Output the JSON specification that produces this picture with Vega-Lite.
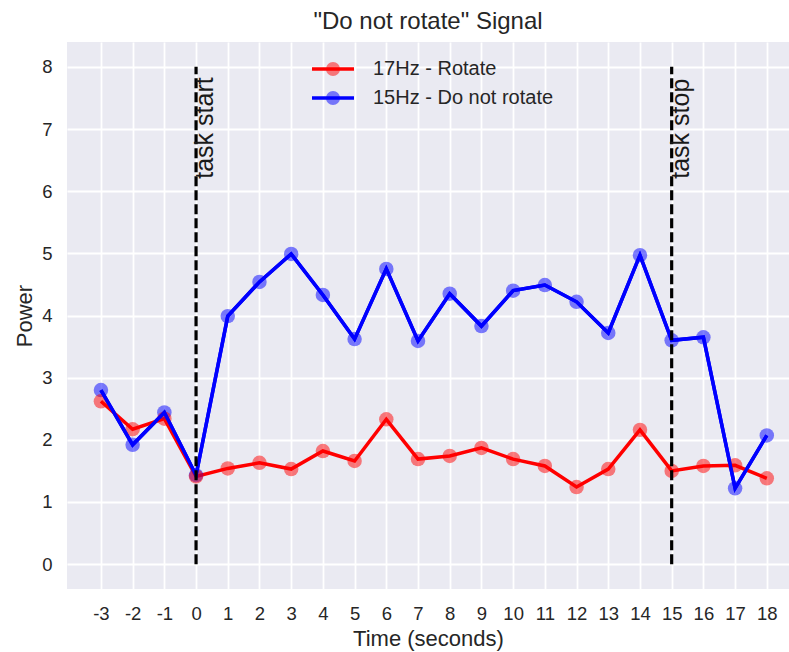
{
  "$schema": "https://vega.github.io/schema/vega-lite/v6.json",
  "width": 722,
  "height": 547,
  "autosize": {"type": "none"},
  "padding": {"left": 67, "top": 42, "right": 0, "bottom": 63},
  "background": "white",
  "title": {"text": "\"Do not rotate\" Signal", "fontSize": 24, "font": "Liberation Sans", "fontWeight": "normal", "color": "#262626", "offset": 8},
  "config": {
    "view": {"fill": "#EAEAF2", "stroke": null},
    "font": "Liberation Sans",
    "axis": {"grid": true, "gridColor": "white", "gridWidth": 1.8, "domain": false, "ticks": false, "tickSize": 0, "labelFontSize": 18.5, "labelColor": "#262626", "titleFontSize": 22, "titleFontWeight": "normal", "titleColor": "#262626", "labelFont": "Liberation Sans", "titleFont": "Liberation Sans", "labelOverlap": false, "labelSeparation": 0},
    "axisQuantitative": {"labelOverlap": false},
    "axisX": {"labelOverlap": false}
  },
  "datasets": {
    "signal": [
      {"time": -3, "series": "15Hz - Do not rotate", "power": 2.80},
      {"time": -2, "series": "15Hz - Do not rotate", "power": 1.92},
      {"time": -1, "series": "15Hz - Do not rotate", "power": 2.44},
      {"time": 0, "series": "15Hz - Do not rotate", "power": 1.43},
      {"time": 1, "series": "15Hz - Do not rotate", "power": 3.99},
      {"time": 2, "series": "15Hz - Do not rotate", "power": 4.54},
      {"time": 3, "series": "15Hz - Do not rotate", "power": 4.99},
      {"time": 4, "series": "15Hz - Do not rotate", "power": 4.33},
      {"time": 5, "series": "15Hz - Do not rotate", "power": 3.62},
      {"time": 6, "series": "15Hz - Do not rotate", "power": 4.75},
      {"time": 7, "series": "15Hz - Do not rotate", "power": 3.59},
      {"time": 8, "series": "15Hz - Do not rotate", "power": 4.35},
      {"time": 9, "series": "15Hz - Do not rotate", "power": 3.83},
      {"time": 10, "series": "15Hz - Do not rotate", "power": 4.40},
      {"time": 11, "series": "15Hz - Do not rotate", "power": 4.49},
      {"time": 12, "series": "15Hz - Do not rotate", "power": 4.22},
      {"time": 13, "series": "15Hz - Do not rotate", "power": 3.72},
      {"time": 14, "series": "15Hz - Do not rotate", "power": 4.97},
      {"time": 15, "series": "15Hz - Do not rotate", "power": 3.60},
      {"time": 16, "series": "15Hz - Do not rotate", "power": 3.65},
      {"time": 17, "series": "15Hz - Do not rotate", "power": 1.22},
      {"time": 18, "series": "15Hz - Do not rotate", "power": 2.07},
      {"time": -3, "series": "17Hz - Rotate", "power": 2.62},
      {"time": -2, "series": "17Hz - Rotate", "power": 2.17},
      {"time": -1, "series": "17Hz - Rotate", "power": 2.34},
      {"time": 0, "series": "17Hz - Rotate", "power": 1.41},
      {"time": 1, "series": "17Hz - Rotate", "power": 1.54},
      {"time": 2, "series": "17Hz - Rotate", "power": 1.63},
      {"time": 3, "series": "17Hz - Rotate", "power": 1.53},
      {"time": 4, "series": "17Hz - Rotate", "power": 1.82},
      {"time": 5, "series": "17Hz - Rotate", "power": 1.66},
      {"time": 6, "series": "17Hz - Rotate", "power": 2.33},
      {"time": 7, "series": "17Hz - Rotate", "power": 1.69},
      {"time": 8, "series": "17Hz - Rotate", "power": 1.74},
      {"time": 9, "series": "17Hz - Rotate", "power": 1.87},
      {"time": 10, "series": "17Hz - Rotate", "power": 1.69},
      {"time": 11, "series": "17Hz - Rotate", "power": 1.58},
      {"time": 12, "series": "17Hz - Rotate", "power": 1.24},
      {"time": 13, "series": "17Hz - Rotate", "power": 1.53},
      {"time": 14, "series": "17Hz - Rotate", "power": 2.16},
      {"time": 15, "series": "17Hz - Rotate", "power": 1.50},
      {"time": 16, "series": "17Hz - Rotate", "power": 1.58},
      {"time": 17, "series": "17Hz - Rotate", "power": 1.59},
      {"time": 18, "series": "17Hz - Rotate", "power": 1.38}
    ],
    "events": [
      {"time": 0, "label": "task start"},
      {"time": 15, "label": "task stop"}
    ]
  },
  "resolve": {"legend": {"stroke": "independent", "fill": "independent"}},
  "encoding": {
    "x": {"field": "time", "type": "quantitative", "scale": {"domain": [-4.07, 18.7], "nice": false, "zero": false}, "axis": {"title": "Time (seconds)", "values": [-3,-2,-1,0,1,2,3,4,5,6,7,8,9,10,11,12,13,14,15,16,17,18], "labelExpr": "'' + datum.value", "labelPadding": 15, "titlePadding": 6, "labelOverlap": false, "labelFlush": false, "labelBound": false}}
  },
  "layer": [
    {
      "data": {"name": "signal"},
      "mark": {"type": "line", "strokeWidth": 3.5},
      "encoding": {
        "y": {"field": "power", "type": "quantitative", "scale": {"domain": [-0.4, 8.4], "nice": false, "zero": false}, "axis": {"title": "Power", "values": [0,1,2,3,4,5,6,7,8], "labelExpr": "'' + datum.value", "labelPadding": 15, "titlePadding": 5, "labelOverlap": false}},
        "stroke": {"field": "series", "type": "nominal", "scale": {"domain": ["17Hz - Rotate", "15Hz - Do not rotate"], "range": ["#ff0000", "#0000ff"]},
          "legend": {"title": null, "orient": "none", "legendX": 256, "legendY": 17, "symbolType": "M-3,0H3", "symbolSize": 196, "symbolStrokeWidth": 3.5, "labelFontSize": 20, "labelColor": "#262626", "labelFont": "Liberation Sans", "labelOffset": 30, "labelLimit": 400, "rowPadding": 9, "padding": 0}}
      }
    },
    {
      "data": {"name": "signal"},
      "mark": {"type": "circle", "size": 210, "opacity": 0.5},
      "encoding": {
        "y": {"field": "power", "type": "quantitative", "scale": {"domain": [-0.4, 8.4], "nice": false, "zero": false}},
        "fill": {"field": "series", "type": "nominal", "scale": {"domain": ["17Hz - Rotate", "15Hz - Do not rotate"], "range": ["#ff0000", "#0000ff"]},
          "legend": {"title": null, "orient": "none", "legendX": 256, "legendY": 17, "symbolType": "circle", "symbolSize": 196, "symbolOpacity": 0.5, "symbolStrokeWidth": 0, "labelFontSize": 20, "labelOpacity": 0, "labelFont": "Liberation Sans", "labelOffset": 30, "labelLimit": 400, "rowPadding": 9, "padding": 0}}
      }
    },
    {
      "data": {"name": "signal"},
      "transform": [{"filter": "datum.series === '15Hz - Do not rotate'"}],
      "mark": {"type": "line", "strokeWidth": 3.5},
      "encoding": {
        "y": {"field": "power", "type": "quantitative", "scale": {"domain": [-0.4, 8.4], "nice": false, "zero": false}},
        "stroke": {"field": "series", "type": "nominal", "scale": {"domain": ["17Hz - Rotate", "15Hz - Do not rotate"], "range": ["#ff0000", "#0000ff"]}, "legend": null}
      }
    },
    {
      "data": {"name": "events"},
      "mark": {"type": "rule", "strokeWidth": 3.2, "strokeDash": [10, 4], "color": "black"},
      "encoding": {
        "y": {"datum": 0, "type": "quantitative", "scale": {"domain": [-0.4, 8.4], "nice": false, "zero": false}},
        "y2": {"datum": 8}
      }
    },
    {
      "data": {"name": "events"},
      "mark": {"type": "text", "angle": 270, "align": "left", "baseline": "alphabetic", "dy": 17, "fontSize": 25, "font": "Liberation Sans", "color": "#1a1a1a"},
      "encoding": {
        "y": {"datum": 6.2, "type": "quantitative", "scale": {"domain": [-0.4, 8.4], "nice": false, "zero": false}},
        "text": {"field": "label", "type": "nominal"}
      }
    }
  ]
}
